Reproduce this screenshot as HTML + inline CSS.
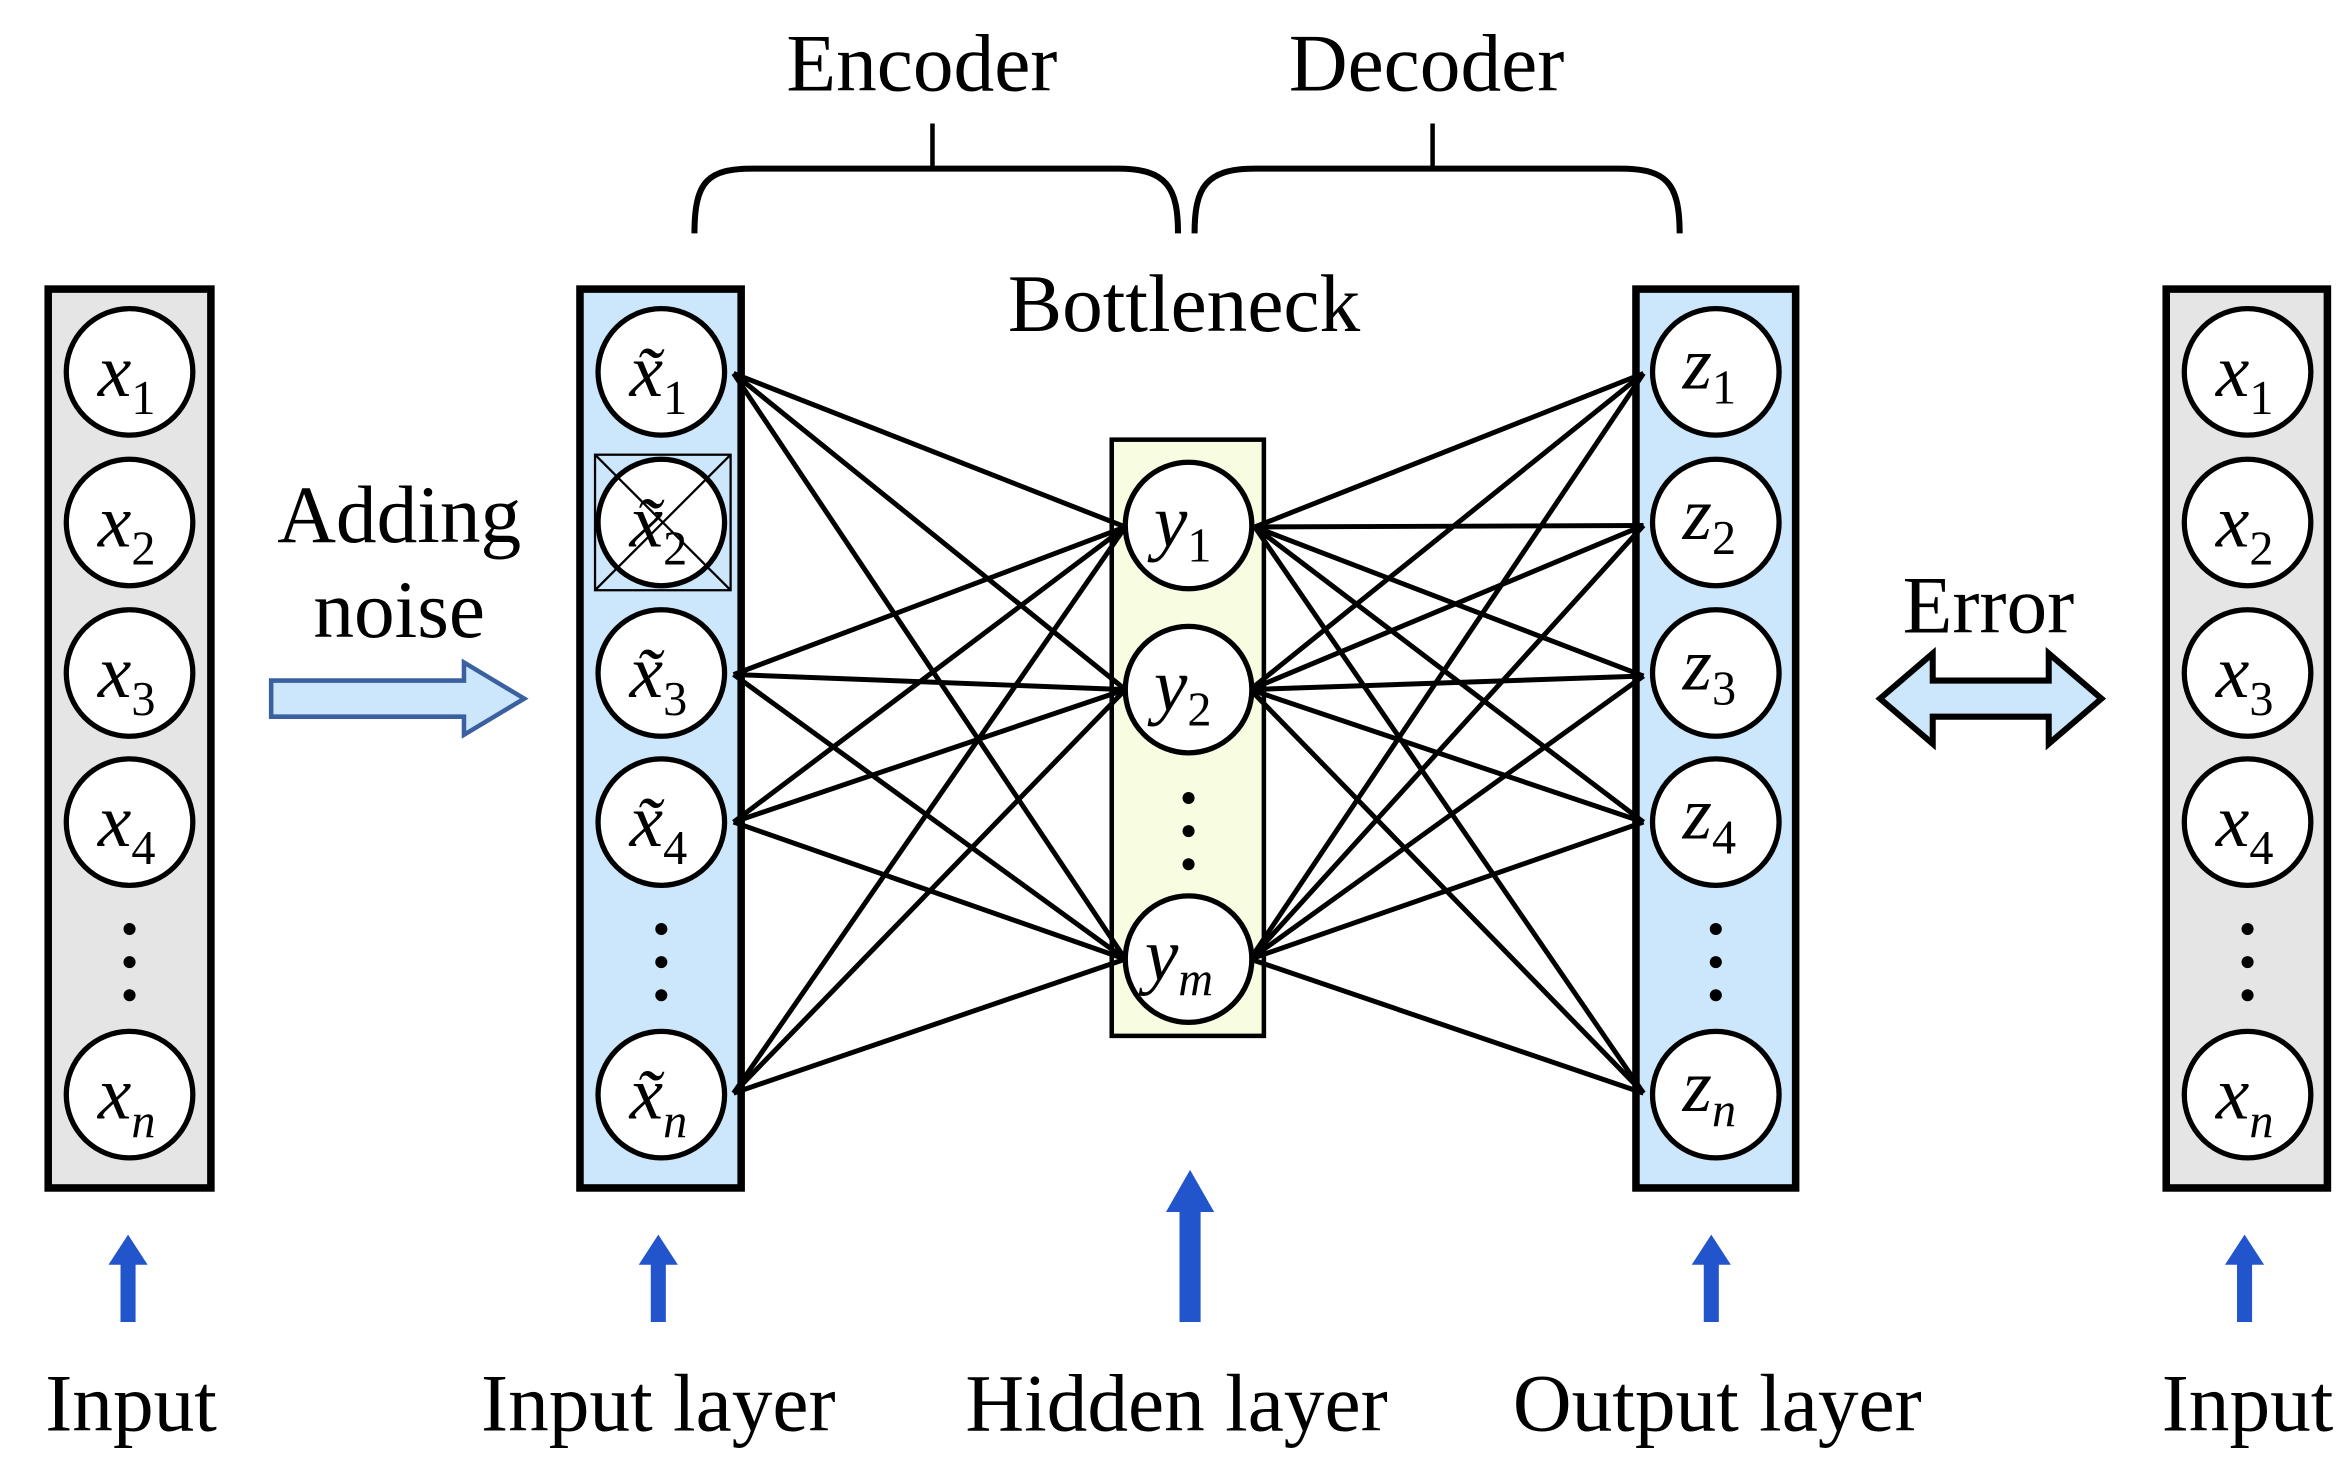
<!DOCTYPE html>
<html><head><meta charset="utf-8"><style>
html,body{margin:0;padding:0;background:#fff;}
svg{display:block;}
text{font-family:"Liberation Serif",serif;fill:#000;}
</style></head><body>
<svg width="2350" height="1465" viewBox="0 0 1560 973" preserveAspectRatio="none" xmlns="http://www.w3.org/2000/svg">
<defs>
<g id="dots"><circle cx="0" cy="0" r="4"/><circle cx="0" cy="22" r="4"/><circle cx="0" cy="44" r="4"/></g>
</defs>
<text x="612" y="60" font-size="54" text-anchor="middle">Encoder</text>
<text x="947" y="60" font-size="54" text-anchor="middle">Decoder</text>
<text x="786" y="220" font-size="54" text-anchor="middle">Bottleneck</text>
<g fill="none" stroke="#000" stroke-width="4">
<path d="M461,155 C461,120 470,112 500,112 L742,112 C775,112 782,125 782,155"/>
<line x1="619" y1="82" x2="619" y2="112" stroke-width="3"/>
<path d="M793,155 C793,125 800,112 833,112 L1075,112 C1105,112 1115,120 1115,155"/>
<line x1="951" y1="82" x2="951" y2="112" stroke-width="3"/>
</g>
<rect x="32" y="192" width="108" height="597" fill="#e5e5e5" stroke="#000" stroke-width="5"/>
<rect x="385" y="192" width="107" height="597" fill="#cce6fb" stroke="#000" stroke-width="5"/>
<rect x="738" y="292" width="101" height="396" fill="#f8fce0" stroke="#000" stroke-width="3"/>
<rect x="1086" y="192" width="106" height="597" fill="#cce6fb" stroke="#000" stroke-width="5"/>
<rect x="1438" y="192" width="107" height="597" fill="#e5e5e5" stroke="#000" stroke-width="5"/>
<g stroke="#000" stroke-width="3.3">
<line x1="487" y1="248" x2="747" y2="350"/><line x1="487" y1="248" x2="747" y2="458"/><line x1="487" y1="248" x2="747" y2="637"/>
<line x1="487" y1="448" x2="747" y2="350"/><line x1="487" y1="448" x2="747" y2="458"/><line x1="487" y1="448" x2="747" y2="637"/>
<line x1="487" y1="546" x2="747" y2="350"/><line x1="487" y1="546" x2="747" y2="458"/><line x1="487" y1="546" x2="747" y2="637"/>
<line x1="487" y1="726" x2="747" y2="350"/><line x1="487" y1="726" x2="747" y2="458"/><line x1="487" y1="726" x2="747" y2="637"/>
<line x1="833" y1="350" x2="1091" y2="248"/><line x1="833" y1="350" x2="1091" y2="349"/><line x1="833" y1="350" x2="1091" y2="449"/><line x1="833" y1="350" x2="1091" y2="546"/><line x1="833" y1="350" x2="1091" y2="726"/>
<line x1="830" y1="458" x2="1091" y2="248"/><line x1="830" y1="458" x2="1091" y2="349"/><line x1="830" y1="458" x2="1091" y2="449"/><line x1="830" y1="458" x2="1091" y2="546"/><line x1="830" y1="458" x2="1091" y2="726"/>
<line x1="830" y1="637" x2="1091" y2="248"/><line x1="830" y1="637" x2="1091" y2="349"/><line x1="830" y1="637" x2="1091" y2="449"/><line x1="830" y1="637" x2="1091" y2="546"/><line x1="830" y1="637" x2="1091" y2="726"/>
</g>
<g fill="#fff" stroke="#000" stroke-width="3.5">
<circle cx="86" cy="247" r="42"/><circle cx="86" cy="347" r="42"/><circle cx="86" cy="447" r="42"/><circle cx="86" cy="546" r="42"/><circle cx="86" cy="727" r="42"/>
<circle cx="439" cy="247" r="42"/><circle cx="439" cy="347" r="42"/><circle cx="439" cy="447" r="42"/><circle cx="439" cy="546" r="42"/><circle cx="439" cy="727" r="42"/>
<circle cx="789" cy="349" r="42"/><circle cx="789" cy="458" r="42"/><circle cx="789" cy="637" r="42"/>
<circle cx="1139" cy="247" r="42"/><circle cx="1139" cy="347" r="42"/><circle cx="1139" cy="447" r="42"/><circle cx="1139" cy="546" r="42"/><circle cx="1139" cy="727" r="42"/>
<circle cx="1492" cy="247" r="42"/><circle cx="1492" cy="347" r="42"/><circle cx="1492" cy="447" r="42"/><circle cx="1492" cy="546" r="42"/><circle cx="1492" cy="727" r="42"/>
</g>
<g fill="none" stroke="#000" stroke-width="1.5">
<rect x="395" y="302" width="90" height="90"/>
<line x1="395" y1="302" x2="485" y2="392"/><line x1="485" y1="302" x2="395" y2="392"/>
</g>
<use href="#dots" x="86" y="617"/><use href="#dots" x="439" y="617"/><use href="#dots" x="1139" y="617"/><use href="#dots" x="1492" y="617"/><use href="#dots" x="789" y="530"/>
<g font-size="50" font-style="italic">
<text x="65" y="263">x<tspan font-style="normal" font-size="32" dy="12">1</tspan></text>
<text x="65" y="363">x<tspan font-style="normal" font-size="32" dy="12">2</tspan></text>
<text x="65" y="463">x<tspan font-style="normal" font-size="32" dy="12">3</tspan></text>
<text x="65" y="562">x<tspan font-style="normal" font-size="32" dy="12">4</tspan></text>
<text x="65" y="743">x<tspan font-size="32" dy="12">n</tspan></text>
<text x="1471" y="263">x<tspan font-style="normal" font-size="32" dy="12">1</tspan></text>
<text x="1471" y="363">x<tspan font-style="normal" font-size="32" dy="12">2</tspan></text>
<text x="1471" y="463">x<tspan font-style="normal" font-size="32" dy="12">3</tspan></text>
<text x="1471" y="562">x<tspan font-style="normal" font-size="32" dy="12">4</tspan></text>
<text x="1471" y="743">x<tspan font-size="32" dy="12">n</tspan></text>
<text x="418" y="263">x̃<tspan font-style="normal" font-size="32" dy="12">1</tspan></text>
<text x="418" y="363">x̃<tspan font-style="normal" font-size="32" dy="12">2</tspan></text>
<text x="418" y="463">x̃<tspan font-style="normal" font-size="32" dy="12">3</tspan></text>
<text x="418" y="562">x̃<tspan font-style="normal" font-size="32" dy="12">4</tspan></text>
<text x="418" y="743">x̃<tspan font-size="32" dy="12">n</tspan></text>
<text x="766" y="363">y<tspan font-style="normal" font-size="32" dy="10">1</tspan></text>
<text x="766" y="472">y<tspan font-style="normal" font-size="32" dy="10">2</tspan></text>
<text x="760" y="651">y<tspan font-size="32" dy="10">m</tspan></text>
<text x="1117" y="258">z<tspan font-style="normal" font-size="32" dy="10">1</tspan></text>
<text x="1117" y="358">z<tspan font-style="normal" font-size="32" dy="10">2</tspan></text>
<text x="1117" y="458">z<tspan font-style="normal" font-size="32" dy="10">3</tspan></text>
<text x="1117" y="557">z<tspan font-style="normal" font-size="32" dy="10">4</tspan></text>
<text x="1117" y="738">z<tspan font-size="32" dy="10">n</tspan></text>
</g>
<text x="265" y="360" font-size="54" text-anchor="middle">Adding</text>
<text x="265" y="423" font-size="54" text-anchor="middle">noise</text>
<path d="M180,452 L308,452 L308,440 L348,464 L308,488 L308,476 L180,476 Z" fill="#cce6fb" stroke="#3a60a0" stroke-width="3"/>
<text x="1320" y="420" font-size="54" text-anchor="middle">Error</text>
<path d="M1248,464 L1283,434 L1283,452 L1360,452 L1360,434 L1395,464 L1360,494 L1360,476 L1283,476 L1283,494 Z" fill="#cce6fb" stroke="#000" stroke-width="4"/>
<g fill="#2255cc">
<path d="M80,878 L80,840 L72,840 L85,820 L98,840 L90,840 L90,878 Z"/>
<path d="M432,878 L432,840 L424,840 L437,820 L450,840 L442,840 L442,878 Z"/>
<path d="M783,878 L783,805 L774,805 L790,777 L806,805 L797,805 L797,878 Z"/>
<path d="M1131,878 L1131,840 L1123,840 L1136,820 L1149,840 L1141,840 L1141,878 Z"/>
<path d="M1485,878 L1485,840 L1477,840 L1490,820 L1503,840 L1495,840 L1495,878 Z"/>
</g>
<g font-size="54" text-anchor="middle">
<text x="87" y="950">Input</text>
<text x="437" y="950">Input layer</text>
<text x="781" y="950">Hidden layer</text>
<text x="1140" y="950">Output layer</text>
<text x="1492" y="950">Input</text>
</g>
</svg>
</body></html>
